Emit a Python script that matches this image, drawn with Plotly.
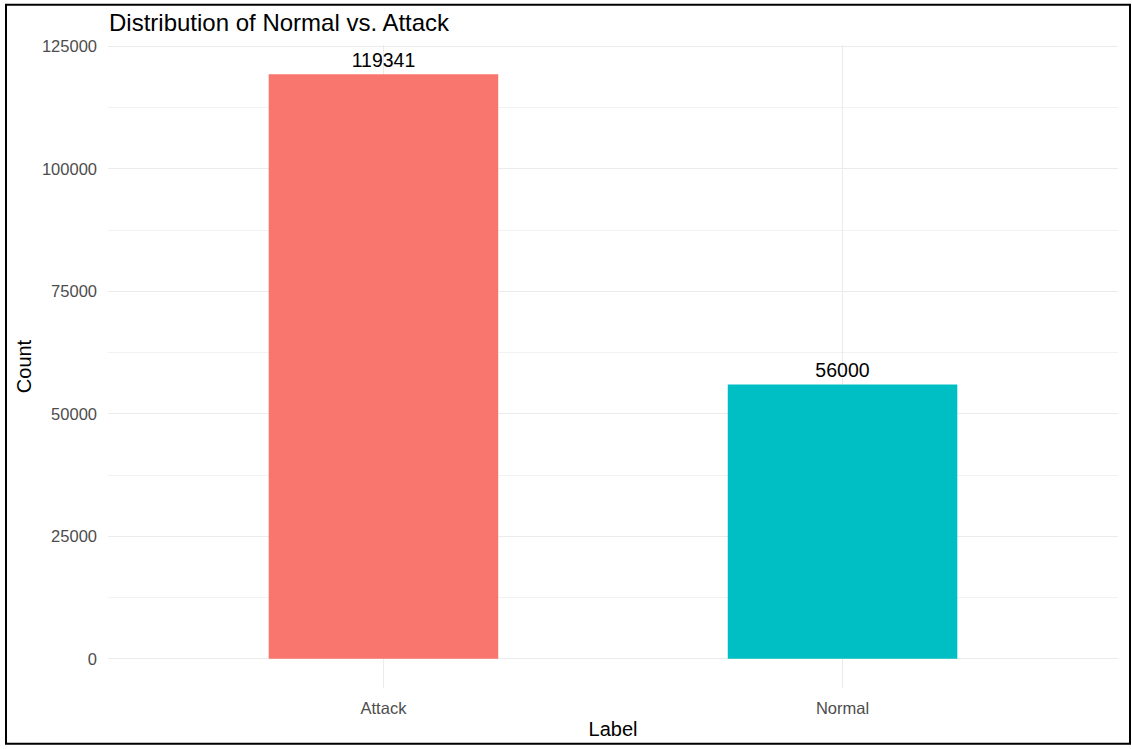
import plotly.graph_objects as go

categories = ["Attack", "Normal"]
counts = [119341, 56000]
bar_colors = ["#F8766D", "#00BFC4"]
y_ticks = [0, 25000, 50000, 75000, 100000, 125000]

W, H = 1132, 749
L, R, T, B = 108, 1118, 44.5, 690
pw, ph = R - L, B - T

def px(x):
    return (x - L) / pw

def py(y):
    return (B - y) / ph

font = "Liberation Sans, Arial, sans-serif"

fig = go.Figure(
    go.Bar(
        x=categories,
        y=counts,
        width=0.5,
        marker=dict(color=bar_colors, line=dict(width=0)),
        text=[str(c) for c in counts],
        textposition="outside",
        textfont=dict(family=font, size=19.5, color="#000000"),
        cliponaxis=False,
    )
)

fig.update_layout(
    width=W,
    height=H,
    margin=dict(l=L, r=W - R, t=T, b=H - B, pad=0),
    paper_bgcolor="white",
    plot_bgcolor="white",
    showlegend=False,
    font=dict(family=font),
    title=dict(
        text="Distribution of Normal vs. Attack",
        x=px(109), xref="paper", xanchor="left",
        y=1 - 31 / H, yref="container", yanchor="bottom",
        font=dict(size=24, color="#000000", family=font),
        pad=dict(t=0, b=0, l=0, r=0),
    ),
    xaxis=dict(
        range=[-0.6, 1.6],
        showgrid=True, gridcolor="#EBEBEB", gridwidth=1.2,
        zeroline=False, showline=False, ticks="",
        tickfont=dict(size=16.5, color="#4D4D4D"),
        ticklabelstandoff=8,
        title=dict(text="Label", font=dict(size=20, color="#000000"), standoff=6),
    ),
    yaxis=dict(
        range=[-5967, 125308],
        tickvals=y_ticks,
        ticktext=[str(v) for v in y_ticks],
        showgrid=True, gridcolor="#EBEBEB", gridwidth=1.2,
        minor=dict(dtick=12500, tick0=0, showgrid=True, gridcolor="#F2F2F2", gridwidth=0.8),
        zeroline=False, showline=False, ticks="",
        tickfont=dict(size=16.5, color="#4D4D4D"),
        ticklabelstandoff=10,
        title=dict(text="Count", font=dict(size=20, color="#000000"), standoff=4),
    ),
    shapes=[
        dict(
            type="rect", xref="paper", yref="paper",
            x0=px(6), x1=px(1130), y0=py(746), y1=py(4),
            line=dict(color="#000000", width=2),
            fillcolor="rgba(0,0,0,0)", layer="above",
        )
    ],
)

fig.write_html("out.html")
